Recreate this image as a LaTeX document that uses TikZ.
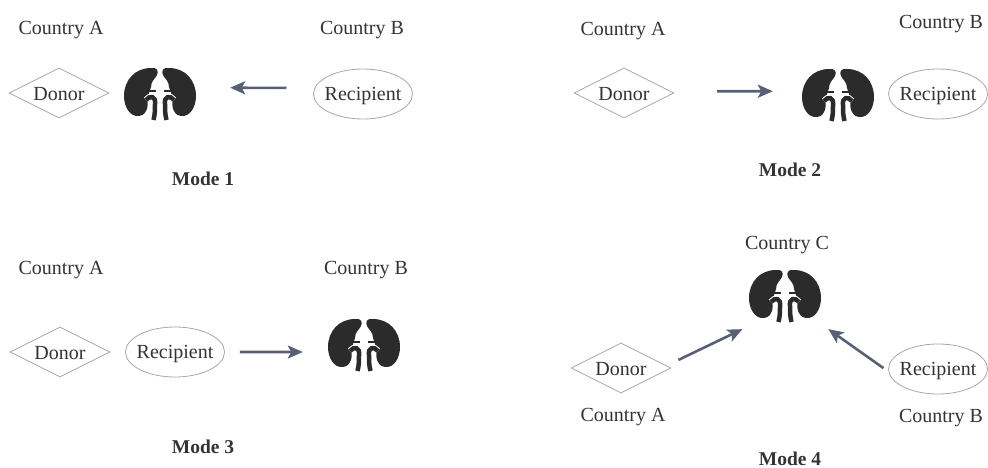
\documentclass[tikz,border=0pt]{standalone}
\usepackage{fontspec}
\setmainfont{Liberation Serif}
\usetikzlibrary{shapes.geometric,arrows.meta}
\definecolor{txtgray}{HTML}{333333}
\definecolor{linegray}{HTML}{A6A6A6}
\definecolor{flowgray}{HTML}{596075}
\definecolor{kidneygray}{HTML}{2B2B2B}
\tikzset{
	country/.style={text=txtgray,font=\fontsize{20}{24}\selectfont,inner sep=0pt},
	modelabel/.style={text=txtgray,font=\fontsize{19.5}{24}\selectfont\bfseries,inner sep=0pt},
	donorbox/.style={diamond,aspect=2,draw=linegray,line width=0.8pt,minimum width=100pt,minimum height=50pt,inner sep=0pt,text height=16pt,text depth=0.8pt,text=txtgray,font=\fontsize{20}{24}\selectfont},
	recipbox/.style={ellipse,draw=linegray,line width=0.8pt,minimum width=99pt,minimum height=50pt,inner xsep=-3.5pt,inner ysep=0pt,text height=14pt,text depth=1pt,text=txtgray,font=\fontsize{20}{24}\selectfont},
	kidneybox/.style={minimum width=72pt,minimum height=52pt,inner sep=0pt},
	flow/.style={-{Stealth[length=15pt,width=13pt,inset=3.5pt]},draw=flowgray,fill=flowgray,line width=2.6pt},
	halfkidney/.pic={
		\fill[kidneygray] (-9,-26) .. controls (-3,-27) and (-1,-23) .. (-3,-19)
			.. controls (-5,-15) and (-9,-13) .. (-9,-7) -- (-13,5)
			.. controls (-12,9) and (-12,14) .. (-14,17)
			.. controls (-16,21) and (-19,22) .. (-21,22)
			.. controls (-30,23) and (-36,13) .. (-36,2)
			.. controls (-36,-14) and (-25,-26) .. (-9,-26) -- cycle;
		\draw[white,line width=6.5pt] (-14,6) .. controls (-10,1) and (-4,2) .. (-5,10) -- (-7,27);
		\draw[kidneygray,line width=1.8pt] (-12,-3) -- (-4,-3);
		\draw[kidneygray,line width=4.5pt] (-14,6) .. controls (-10,1) and (-4,2) .. (-5,10) .. controls (-5,16) and (-5,20) .. (-6.5,26);
	},
	kidney/.pic={
		\pic {halfkidney};
		\pic[xscale=-1] {halfkidney};
	}
}
\begin{document}
\begin{tikzpicture}[x=1pt,y=-1pt]
	\useasboundingbox (0,0) rectangle (988,468);
	
	\path
	(61,30) node[country] (cA1) {Country A}
	(362,30) node[country] (cB1) {Country B}
	(623,31) node[country] (cA2) {Country A}
	(941,24) node[country] (cB2) {Country B}
	(61,270) node[country] (cA3) {Country A}
	(366,270) node[country] (cB3) {Country B}
	(787,245) node[country] (cC4) {Country C}
	(623,417) node[country] (cA4) {Country A}
	(941,418) node[country] (cB4) {Country B};
	
	\path
	(203,179) node[modelabel] (mode1) {Mode 1}
	(790,170) node[modelabel] (mode2) {Mode 2}
	(203,447) node[modelabel] (mode3) {Mode 3}
	(790,459) node[modelabel] (mode4) {Mode 4};
	
	\path
	(59,93) node[donorbox] (don1) {Donor}
	(624,93) node[donorbox] (don2) {Donor}
	(60,352) node[donorbox] (don3) {Donor}
	(621,368) node[donorbox] (don4) {Donor};
	
	\path
	(363,94) node[recipbox] (rec1) {Recipient}
	(938,94) node[recipbox] (rec2) {Recipient}
	(175,352) node[recipbox] (rec3) {Recipient}
	(938,369) node[recipbox] (rec4) {Recipient};
	
	\path
	(160,94) node[kidneybox] (kid1) {}
	(838,95) node[kidneybox] (kid2) {}
	(364,345) node[kidneybox] (kid3) {}
	(785,296) node[kidneybox] (kid4) {};
	
	\foreach \i in {1,2,3,4}{
		\pic at (kid\i) {kidney};
	}
	
	\draw[flow,shorten <=28pt,shorten >=34pt] (rec1.173) -- (kid1.10);
	\draw[flow,shorten <=46pt,shorten >=29pt] (don2.2.5) -- (kid2.174);
	\draw[flow,shorten <=15pt,shorten >=25pt] (rec3.east) -- (kid3.191);
	\draw[flow,shorten <=13pt,shorten >=16pt] (don4.3) -- (kid4.223);
	\draw[flow,shorten <=6pt,shorten >=12pt] (rec4.183) -- (kid4.322);
\end{tikzpicture}
\end{document}
